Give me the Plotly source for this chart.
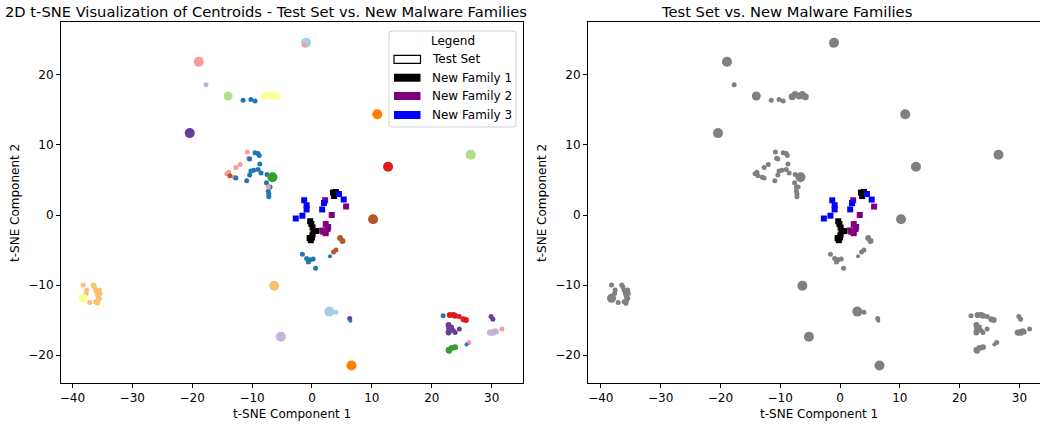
import plotly.graph_objects as go

W, H = 1040, 425

PAIRED = {
    "lightblue": "#a6cee3", "blue": "#1f78b4", "lightgreen": "#b2df8a", "green": "#33a02c",
    "pink": "#fb9a99", "red": "#e31a1c", "lightorange": "#fdbf6f", "orange": "#ff7f00",
    "lightpurple": "#cab2d6", "purple": "#6a3d9a", "yellow": "#ffff99", "brown": "#b15928",
}

# ---- Test set centroids (x, y, colour, size) ----
test_x = [-1.0, -1.3, -18.9, -17.7, -14.0, -11.5, -10.2, -9.5,
          -8.0, -7.5, -6.8, -6.3, -5.8,
          -20.4, 10.9, 26.5, 12.7, 10.2,
          -10.8, -9.5, -9.0, -8.8, -10.6, -10.4, -8.7, -12.0, -12.7,
          -9.7, -10.2, -9.0, -8.5, -10.4, -10.9, -13.9, -14.2, -13.0, -13.7,
          -12.7, -7.5, -6.6, -7.6, -7.0, -7.3, -7.2, -7.2, -7.3,
          4.7, 5.1, 4.0, 3.6, 3.0,
          -1.6, -0.9, -0.3, 0.2, -0.6, 0.6,
          -6.3, 2.9, 4.0, 6.3, 6.4, -5.2, 6.6,
          -38.2, -37.6, -37.7, -37.1, -36.5, -36.3, -36.1, -35.9, -35.8, -35.7,
          -35.5, -35.7, -35.8, -36.1, -35.4, -35.5, -38.2,
          21.9, 23.0, 23.6, 23.9, 24.6, 25.3, 25.7,
          22.8, 22.9, 22.8, 23.2, 23.6, 23.9, 24.6, 23.3,
          22.8, 23.3, 23.9, 22.9, 26.2, 25.8,
          29.9, 30.2, 29.7, 30.2, 30.6, 30.8, 30.3, 29.9, 31.7]
test_y = [24.6, 24.3, 21.9, 18.6, 17.0, 16.4, 16.5, 16.3,
          16.9, 17.2, 17.0, 17.2, 16.9,
          11.7, 14.4, 8.6, 6.9, -0.6,
          9.0, 8.9, 8.8, 8.5, 8.1, 8.0, 7.3, 7.2, 6.8,
          6.4, 6.3, 6.5, 6.0, 5.7, 4.9, 6.1, 5.9, 5.4, 5.6,
          5.3, 5.8, 5.4, 4.6, 4.0, 3.4, 3.0, 2.6, 4.0,
          -3.3, -3.7, -5.0, -5.3, -5.9,
          -5.6, -6.2, -6.4, -6.3, -6.7, -7.6,
          -10.1, -13.8, -13.9, -14.8, -15.1, -17.4, -21.5,
          -10.0, -10.7, -11.2, -12.5, -10.0, -10.3, -10.7, -11.1, -11.4, -11.7,
          -11.9, -12.2, -12.6, -12.4, -11.2, -10.7, -11.9,
          -14.4, -14.3, -14.3, -14.4, -14.5, -14.9, -15.0,
          -15.7, -16.2, -16.8, -16.4, -16.5, -16.8, -16.3, -16.0,
          -19.3, -19.0, -18.9, -19.4, -18.2, -18.5,
          -14.5, -14.9, -16.8, -16.7, -16.6, -16.7, -16.9, -16.9, -16.3]
test_c = ["lightblue", "pink", "pink", "lightpurple", "lightgreen", "blue", "blue", "blue",
          "yellow", "yellow", "yellow", "yellow", "yellow",
          "purple", "orange", "lightgreen", "red", "brown",
          "pink", "blue", "blue", "blue", "pink", "blue", "blue", "pink", "pink",
          "blue", "blue", "blue", "blue", "blue", "blue", "pink", "pink", "pink", "brown",
          "blue", "blue", "green", "blue", "blue", "blue", "blue", "blue", "pink",
          "brown", "brown", "brown", "brown", "blue",
          "blue", "blue", "blue", "blue", "blue", "blue",
          "lightorange", "lightblue", "lightblue", "purple", "blue", "lightpurple", "orange",
          "lightorange", "lightorange", "lightorange", "lightorange", "lightorange", "lightorange",
          "lightorange", "lightorange", "lightorange", "lightorange",
          "lightorange", "lightorange", "lightorange", "lightorange", "lightorange", "lightorange", "yellow",
          "blue", "red", "red", "red", "red", "red", "red",
          "purple", "purple", "purple", "purple", "purple", "purple", "purple", "purple",
          "green", "green", "green", "green", "pink", "blue",
          "purple", "purple", "lightpurple", "lightpurple", "lightpurple", "lightpurple",
          "lightpurple", "lightpurple", "pink"]
test_s = [10, 5, 10, 5, 9, 5, 5, 5,
          7, 7, 7, 7, 7,
          10, 10, 10, 10, 10,
          5, 5, 5, 5, 5, 5, 5, 5, 5,
          5, 5, 5, 5, 5, 5, 5, 5, 5, 5,
          5, 5, 10, 5, 5, 5, 5, 5, 5,
          6, 6, 5, 5, 4,
          5, 5, 5, 5, 5, 5,
          10, 10, 5, 5, 4, 10, 10,
          5, 5, 5, 5, 5, 5, 5, 5, 5, 5,
          5, 5, 5, 5, 5, 5, 9,
          5, 6, 6, 6, 5, 6, 6,
          6, 6, 6, 5, 5, 5, 5, 5,
          6, 6, 6, 6, 5, 4,
          5, 5, 6, 6, 6, 5, 5, 5, 5]

# ---- New malware families ----
nf1_x = [3.5, 3.9, 3.7, 4.0, -0.3, -0.1, 0.1, 0.3, 0.7, 0.1, 0.0, -0.2, -0.4]
nf1_y = [3.2, 3.0, 2.7, 3.3, -0.9, -1.3, -1.8, -2.3, -2.3, -2.8, -3.2, -3.6, -3.3]
nf2_x = [2.2, 5.7, 3.3, 2.3, 1.9, 2.6, 2.3, 1.7, 2.7]
nf2_y = [2.1, 1.2, 0.0, -1.3, -2.4, -2.0, -2.6, -2.2, -1.7]
nf3_x = [-1.3, -0.9, -0.9, -1.6, -2.7, 2.0, 1.7, 4.5, 5.3]
nf3_y = [2.1, 1.4, 0.8, -0.1, -0.5, 1.7, 0.8, 3.0, 2.2]

legend_labels = ["Test Set", "New Family 1", "New Family 2", "New Family 3"]
legend_fill = ["white", "black", "#800080", "#0000ff"]

FONT = "DejaVu Sans"


def px(x):
    return x / W


def py(y):
    return 1 - y / H


fig = go.Figure()

for xa, ya, gray in [("x", "y", False), ("x2", "y2", True)]:
    fig.add_trace(go.Scatter(
        x=test_x, y=test_y, mode="markers", xaxis=xa, yaxis=ya, showlegend=False,
        marker=dict(size=test_s, opacity=1,
                    color=["#808080" if gray else PAIRED[c] for c in test_c],
                    line=dict(width=0)),
        hoverinfo="skip"))
    for xs, ys, col in [(nf1_x, nf1_y, "black"), (nf2_x, nf2_y, "#800080"), (nf3_x, nf3_y, "#0000ff")]:
        fig.add_trace(go.Scatter(
            x=xs, y=ys, mode="markers", xaxis=xa, yaxis=ya, showlegend=False,
            marker=dict(size=6, symbol="square", color=col, opacity=1, line=dict(width=0)),
            hoverinfo="skip"))

ticks_x = [-40, -30, -20, -10, 0, 10, 20, 30]
ticks_y = [-20, -10, 0, 10, 20]


def lab(v):
    return ("\u2212" + str(-v)) if v < 0 else str(v)


common = dict(showgrid=False, zeroline=False, showline=True, linecolor="black", linewidth=1,
              ticks="outside", ticklen=4, tickwidth=1, tickcolor="black",
              tickfont=dict(family=FONT, size=12, color="black"))

fig.update_layout(
    width=W, height=H, margin=dict(l=0, r=0, t=0, b=0),
    plot_bgcolor="white", paper_bgcolor="white", showlegend=False,
    xaxis=dict(domain=[px(61), px(522.7)], range=[-41.9, 35.18], mirror=True,
               tickvals=ticks_x, ticktext=[lab(v) for v in ticks_x], anchor="y", **common),
    yaxis=dict(domain=[py(383), py(22)], range=[-24.0, 27.57], mirror=True,
               tickvals=ticks_y, ticktext=[lab(v) for v in ticks_y], anchor="x", **common),
    xaxis2=dict(domain=[px(588), 1.0], range=[-42.14, 33.44], mirror=True,
                tickvals=ticks_x, ticktext=[lab(v) for v in ticks_x], anchor="y2", **common),
    yaxis2=dict(domain=[py(383), py(22)], range=[-24.0, 27.57], mirror=False,
                tickvals=ticks_y, ticktext=[lab(v) for v in ticks_y], anchor="x2", **common),
)

ann = []
ann.append(dict(text="2D t-SNE Visualization of Centroids - Test Set vs. New Malware Families",
                x=px(266), y=py(12), font=dict(family=FONT, size=14.7, color="black")))
ann.append(dict(text="Test Set vs. New Malware Families",
                x=px(786), y=py(12), font=dict(family=FONT, size=14.7, color="black")))
ann.append(dict(text="t-SNE Component 1", x=px(292), y=py(414), font=dict(family=FONT, size=12, color="black")))
ann.append(dict(text="t-SNE Component 1", x=px(819), y=py(414), font=dict(family=FONT, size=12, color="black")))
ann.append(dict(text="t-SNE Component 2", x=px(15), y=py(203), textangle=-90,
                font=dict(family=FONT, size=12, color="black")))
ann.append(dict(text="t-SNE Component 2", x=px(542), y=py(203), textangle=-90,
                font=dict(family=FONT, size=12, color="black")))

# legend (drawn as in matplotlib)
shapes = []
lx0, lx1, ly0, ly1, r = 389, 516, 31, 127, 3
path = (f"M {px(lx0 + r)} {py(ly0)} L {px(lx1 - r)} {py(ly0)} Q {px(lx1)} {py(ly0)} {px(lx1)} {py(ly0 + r)} "
        f"L {px(lx1)} {py(ly1 - r)} Q {px(lx1)} {py(ly1)} {px(lx1 - r)} {py(ly1)} "
        f"L {px(lx0 + r)} {py(ly1)} Q {px(lx0)} {py(ly1)} {px(lx0)} {py(ly1 - r)} "
        f"L {px(lx0)} {py(ly0 + r)} Q {px(lx0)} {py(ly0)} {px(lx0 + r)} {py(ly0)} Z")
shapes.append(dict(type="path", path=path, xref="paper", yref="paper", layer="above",
                   line=dict(color="#d0d0d0", width=1), fillcolor="rgba(255,255,255,0.85)"))
ann.append(dict(text="Legend", x=px(452.5), y=py(41), font=dict(family=FONT, size=12, color="black")))
rows = [59.3, 77.7, 96, 115]
for lbl, fc, ry in zip(legend_labels, legend_fill, rows):
    shapes.append(dict(type="rect", xref="paper", yref="paper", layer="above",
                       x0=px(394), x1=px(420.5), y0=py(ry - 4), y1=py(ry + 4),
                       fillcolor=fc, line=dict(color="black", width=1.2 if fc == "white" else 0)))
    ann.append(dict(text=lbl, x=px(430), y=py(ry), xanchor="left",
                    font=dict(family=FONT, size=12, color="black")))

for a in ann:
    a.setdefault("xanchor", "center")
    a.update(xref="paper", yref="paper", yanchor="middle", showarrow=False)

fig.update_layout(annotations=ann, shapes=shapes)
fig.write_html("out.html")
